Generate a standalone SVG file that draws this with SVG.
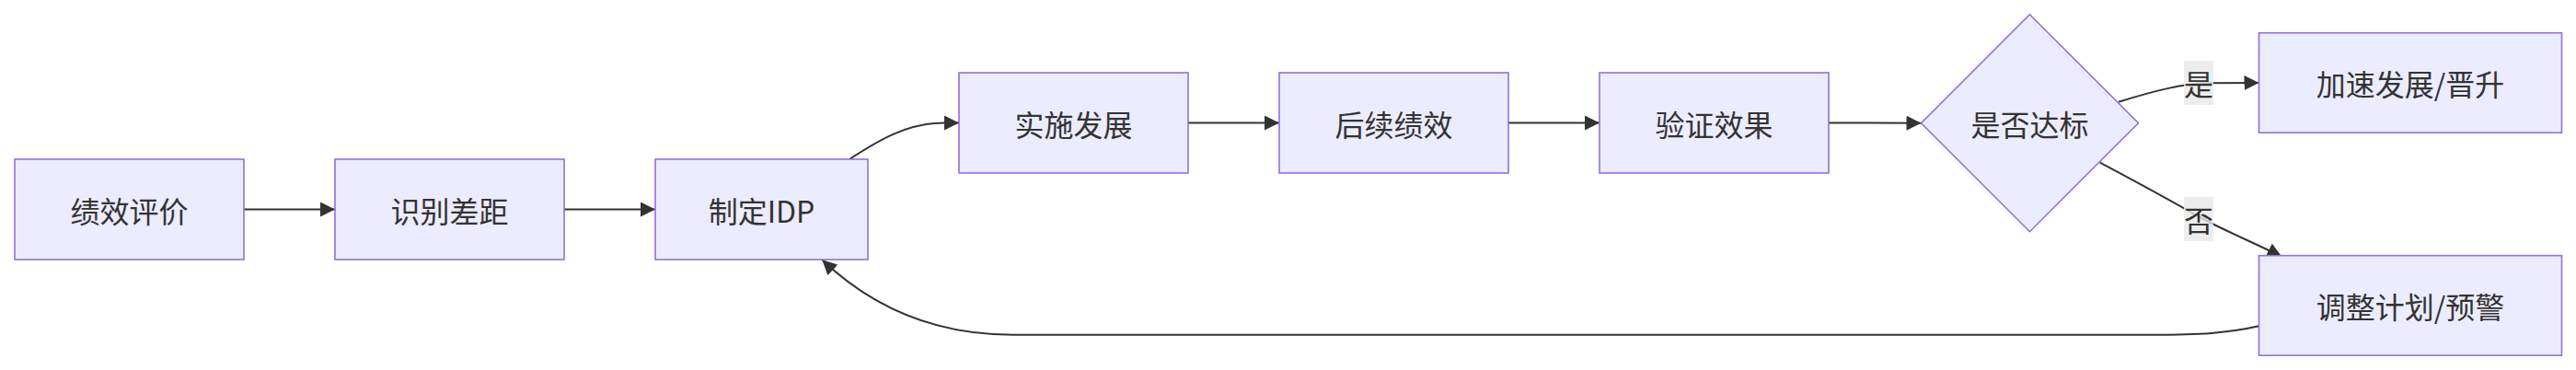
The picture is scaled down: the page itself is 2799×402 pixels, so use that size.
<svg xmlns="http://www.w3.org/2000/svg" width="2799" height="402" viewBox="0 0 2799 402">
<style>
.node rect,.node polygon{fill:#ECECFF;stroke:#9370DB;stroke-width:1.6}
.edge{fill:none;stroke:#333333;stroke-width:2}
.lbl{font-family:"Noto Sans CJK SC","Noto Sans",sans-serif;font-size:32px;fill:#333333;text-anchor:middle;dominant-baseline:central}
.lblbg{fill:#e8e8e8;fill-opacity:0.8}
</style>
<defs>
<marker id="arr" markerUnits="userSpaceOnUse" markerWidth="16" markerHeight="16" viewBox="0 0 16 16" refX="16" refY="8" orient="auto">
<path d="M0,0 L16,8 L0,16 z" fill="#333333"/>
</marker>
</defs>
<g id="connectors">
<path class="edge" marker-end="url(#arr)" d="M265,227.5 L364,227.5"/>
<path class="edge" marker-end="url(#arr)" d="M613,227.5 L712,227.5"/>
<path class="edge" marker-end="url(#arr)" d="M923,173 C955,152 985,134 1026,133.5 L1042,133.5"/>
<path class="edge" marker-end="url(#arr)" d="M1291,133.5 L1390,133.5"/>
<path class="edge" marker-end="url(#arr)" d="M1639,133.5 L1738,133.5"/>
<path class="edge" marker-end="url(#arr)" d="M1987,133.5 L2087.5,133.7"/>
<path class="edge" marker-end="url(#arr)" d="M2302,110.7 C2340,99 2370,91 2400,90.3 L2454.5,90"/>
<path class="edge" marker-end="url(#arr)" d="M2281.7,176.7 C2320,197 2355,216 2389,235.5 C2420,252 2450,264 2479.4,279"/>
<path class="edge" marker-end="url(#arr)" d="M2454.5,354.3 C2420,362 2390,363.7 2340,363.7 L1100,363.7 C1000,363.7 935,322 893.3,282.3"/>
</g>
<g id="edge-labels">
<g id="label-yes">
<rect class="lblbg" x="2373" y="66" width="32" height="48"/>
<text class="lbl" x="2389" y="90">是</text>
</g>
<g id="label-no">
<rect class="lblbg" x="2373" y="214" width="32" height="48"/>
<text class="lbl" x="2389" y="238">否</text>
</g>
</g>
<g id="n1" class="node"><rect x="16" y="173" width="249" height="109"/><text class="lbl" x="140.5" y="227.5">绩效评价</text></g>
<g id="n2" class="node"><rect x="364" y="173" width="249" height="109"/><text class="lbl" x="488.5" y="227.5">识别差距</text></g>
<g id="n3" class="node"><rect x="712" y="173" width="231" height="109"/><text class="lbl" x="827.5" y="227.5">制定IDP</text></g>
<g id="n4" class="node"><rect x="1042" y="79" width="249" height="109"/><text class="lbl" x="1166.5" y="133.5">实施发展</text></g>
<g id="n5" class="node"><rect x="1390" y="79" width="249" height="109"/><text class="lbl" x="1514.5" y="133.5">后续绩效</text></g>
<g id="n6" class="node"><rect x="1738" y="79" width="249" height="109"/><text class="lbl" x="1862.5" y="133.5">验证效果</text></g>
<g id="n7" class="node"><polygon points="2205.5,15.7 2323.5,133.7 2205.5,251.7 2087.5,133.7"/><text class="lbl" x="2205.5" y="133.7">是否达标</text></g>
<g id="n8" class="node"><rect x="2454.5" y="35.7" width="329" height="108.5"/><text class="lbl" x="2619" y="90">加速发展/晋升</text></g>
<g id="n9" class="node"><rect x="2454.5" y="277.7" width="329" height="108.5"/><text class="lbl" x="2619" y="332">调整计划/预警</text></g>
</svg>
